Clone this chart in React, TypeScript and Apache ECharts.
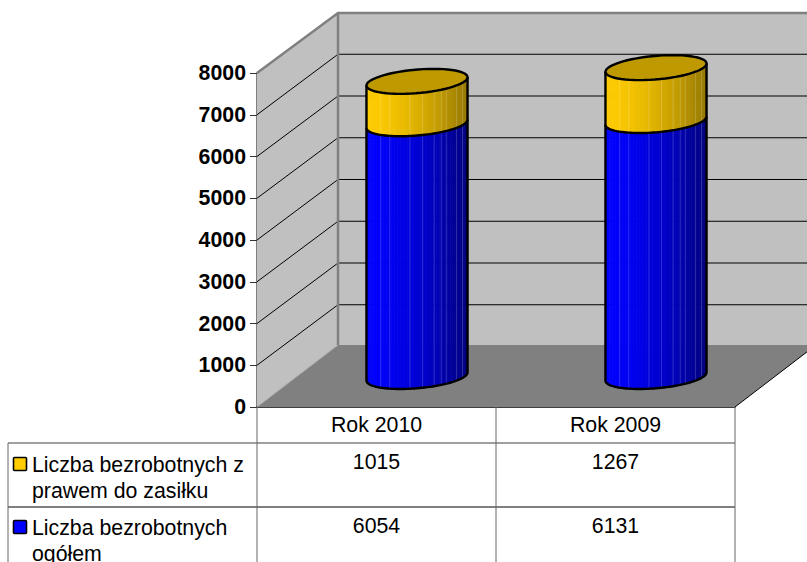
import React, { useEffect, useRef } from "react";
import * as echarts from "echarts";

const categories = ["Rok 2010", "Rok 2009"];
const totalName = "Liczba bezrobotnych ogółem";
const benefitName = "Liczba bezrobotnych z prawem do zasiłku";
const totalValues = [6054, 6131];
const benefitValues = [1015, 1267];
const yTicks = [0, 1000, 2000, 3000, 4000, 5000, 6000, 7000, 8000];

const FONT = "Liberation Sans, Arial, sans-serif";
const FONT_SIZE = 21.3;
const DEPTH_X = 81;
const DEPTH_Y = 61;
const R_X = 47.7;
const R_SKEW = 16.7;
const R_Y = 12.5;
const FACETS = 48;
const SEAMS = [-0.72, -0.54, -0.14, 0.11, 0.34, 0.48, 0.58, 0.78, 0.9];

const mix = (a: number[], b: number[], t: number) =>
  "rgb(" + a.map((v, i) => Math.round(v + (b[i] - v) * t)).join(",") + ")";

const ellipsePoint = (cx: number, cy: number, deg: number) => {
  const t = (deg * Math.PI) / 180;
  return [cx + R_X * Math.cos(t) + R_SKEW * Math.sin(t), cy - R_Y * Math.sin(t)];
};
const LEFT = 199.3;
const RIGHT = 379.3;
const SPAN = RIGHT - LEFT;

const frontArc = (cx: number, cy: number) => {
  const pts: number[][] = [];
  for (let i = 0; i <= 60; i++) pts.push(ellipsePoint(cx, cy, LEFT + (SPAN * i) / 60));
  return pts;
};

// A cylinder standing between two values, drawn at the centre of the depth of its category.
function cylinder(api: any, cat: number, lower: number, upper: number, light: number[], dark: number[], top: string | null) {
  const low = api.coord([cat, lower]);
  const up = api.coord([cat, upper]);
  const cx = low[0] + DEPTH_X / 2;
  const yLow = low[1] - DEPTH_Y / 2;
  const yUp = up[1] - DEPTH_Y / 2;
  const children: any[] = [];
  for (let i = 0; i < FACETS; i++) {
    const a0 = LEFT + (SPAN * i) / FACETS;
    const a1 = LEFT + (SPAN * (i + 1)) / FACETS;
    const p0 = ellipsePoint(cx, yUp, a0);
    const p1 = ellipsePoint(cx, yUp, a1);
    const q1 = ellipsePoint(cx, yLow, a1);
    const q0 = ellipsePoint(cx, yLow, a0);
    const u = ((p0[0] + p1[0]) / 2 - (cx - 50.5)) / 101;
    const colour = mix(light, dark, Math.pow(Math.max(u, 0), 1.6));
    children.push({
      type: "polygon",
      shape: { points: [p0, p1, q1, q0] },
      style: { fill: colour, stroke: colour, lineWidth: 0.7 },
    });
  }
  SEAMS.forEach((s) => {
    const deg = LEFT - 180 + 360 - (Math.acos(s) * 180) / Math.PI;
    const a = ellipsePoint(cx, yUp, deg);
    const b = ellipsePoint(cx, yLow, deg);
    children.push({
      type: "line",
      shape: { x1: a[0], y1: a[1], x2: b[0], y2: b[1] },
      style: { stroke: "rgba(255,255,255,0.18)", lineWidth: 1 },
    });
  });
  const leftTop = ellipsePoint(cx, yUp, LEFT);
  const rightTop = ellipsePoint(cx, yUp, RIGHT);
  children.push({
    type: "polyline",
    shape: { points: [leftTop, ...frontArc(cx, yLow), rightTop] },
    style: { fill: "none", stroke: "#000", lineWidth: 2.4 },
  });
  if (top) {
    const ring: number[][] = [];
    for (let d = 0; d <= 360; d += 6) ring.push(ellipsePoint(cx, yUp, d));
    children.push({ type: "polygon", shape: { points: ring }, style: { fill: top, stroke: "#000", lineWidth: 2.4 } });
  }
  return { type: "group", children };
}

const App = () => {
  const ref = useRef<HTMLDivElement>(null);
  useEffect(() => {
    document.body.style.margin = "0";
    document.body.style.overflow = "hidden";
    const chart = echarts.init(ref.current!, undefined, { renderer: "svg" });

    const line = (x1: number, y1: number, x2: number, y2: number, stroke: string, lineWidth = 1) => ({
      type: "line",
      shape: { x1, y1, x2, y2 },
      style: { stroke, lineWidth },
    });
    const font = `${FONT_SIZE}px ${FONT}`;
    const text = (x: number, y: number, t: string) => ({
      type: "text",
      x,
      y,
      style: { text: t, fill: "#000", font, align: "center", verticalAlign: "middle" },
    });

    const option: any = {
      animation: false,
      backgroundColor: "#fff",
      grid: { left: 257, right: 72, top: 73, height: 334, containLabel: false },
      xAxis: {
        type: "category",
        data: categories,
        boundaryGap: true,
        axisLine: { show: true, lineStyle: { color: "#000", width: 1.5 } },
        axisTick: { show: false },
        axisLabel: { show: true, margin: 7, color: "#000", fontFamily: FONT, fontSize: FONT_SIZE, lineHeight: 22 },
      },
      yAxis: {
        type: "value",
        min: 0,
        max: 8000,
        interval: 1000,
        splitLine: { show: false },
        axisLine: { show: true, lineStyle: { color: "#555", width: 1.5 } },
        axisTick: { show: true, length: 7, lineStyle: { color: "#333", width: 1 } },
        axisLabel: {
          color: "#000",
          fontFamily: FONT,
          fontSize: FONT_SIZE,
          fontWeight: "bold",
          margin: 11,
          padding: [2, 0, 0, 0],
          formatter: (v: number) => String(v),
        },
      },
      series: [
        {
          type: "custom",
          name: "walls",
          silent: true,
          z: 1,
          data: [0],
          renderItem: (_: any, api: any) => {
            const y0 = api.coord([0, 0])[1];
            const yTop = api.coord([0, 8000])[1];
            const left = api.coord([0, 0])[0] - api.size([1, 0])[0] / 2;
            const right = left + api.size([1, 0])[0] * categories.length;
            const bx = left + DEPTH_X;
            const by0 = y0 - DEPTH_Y - 1;
            const byT = yTop - 60;
            const children: any[] = [
              { type: "polygon", shape: { points: [[left, y0], [bx, by0], [bx, byT], [left, yTop]] }, style: { fill: "#c0c0c0" } },
              { type: "rect", shape: { x: bx, y: byT, width: 500, height: by0 - byT }, style: { fill: "#c0c0c0" } },
              { type: "polygon", shape: { points: [[left, y0], [bx, by0], [right + DEPTH_X, by0], [right, y0]] }, style: { fill: "#808080" } },
            ];
            yTicks.slice(1, -1).forEach((v) => {
              const y = api.coord([0, v])[1];
              children.push(line(left, y, bx, y - DEPTH_Y + 0.5, "#000"));
              children.push(line(bx, y - DEPTH_Y + 0.5, 820, y - DEPTH_Y + 0.5, "#000", 1));
            });
            children.push({
              type: "polyline",
              shape: { points: [[left, yTop], [bx, byT], [820, byT]] },
              style: { fill: "none", stroke: "#808080", lineWidth: 2.5 },
            });
            children.push(line(bx, byT, bx, by0, "#808080", 2.5));
            children.push(line(left, y0, bx, by0, "#a8a8a8", 1));
            children.push(line(right, y0, right + DEPTH_X, by0, "#000", 1));
            // data table rules
            children.push(line(8, 443, right, 443, "#808080", 1.5));
            children.push(line(8, 507, right, 507, "#000", 1));
            children.push(line(8, 443, 8, 562, "#666", 1));
            [0, 1, 2].forEach((i) => {
              const x = left + (i * (right - left)) / 2;
              children.push(line(x, y0, x, 562, "#666", 1));
            });
            return { type: "group", children };
          },
        },
        {
          type: "custom",
          name: totalName,
          z: 3,
          encode: { x: 0, y: 1 },
          data: totalValues.map((v, i) => [i, v]),
          renderItem: (p: any, api: any) =>
            cylinder(api, api.value(0), 0, api.value(1), [0, 0, 255], [0, 0, 128], null),
        },
        {
          type: "custom",
          name: benefitName,
          z: 4,
          encode: { x: 0, y: 1 },
          data: benefitValues.map((v, i) => [i, totalValues[i] + v]),
          renderItem: (p: any, api: any) =>
            cylinder(api, api.value(0), totalValues[api.value(0)], api.value(1), [255, 204, 0], [150, 120, 0], "#bf9900"),
        },
        {
          type: "custom",
          name: "table",
          silent: true,
          z: 5,
          data: categories.map((_, i) => [i, 0]),
          renderItem: (_: any, api: any) => {
            const i = api.value(0);
            const x = api.coord([i, 0])[0];
            return {
              type: "group",
              children: [text(x, 462, String(benefitValues[i])), text(x, 526, String(totalValues[i]))],
            };
          },
        },
      ],
      graphic: [
        { type: "rect", z: 10, shape: { x: 13.5, y: 457.5, width: 13, height: 13, r: 1 }, style: { fill: "#ffcc00", stroke: "#000", lineWidth: 1.6 } },
        { type: "rect", z: 10, shape: { x: 13.5, y: 520.5, width: 13, height: 13, r: 1 }, style: { fill: "#0000ff", stroke: "#000", lineWidth: 1.6 } },
        { type: "text", z: 10, x: 32, y: 465, style: { text: "Liczba bezrobotnych z", fill: "#000", font, verticalAlign: "middle" } },
        { type: "text", z: 10, x: 32, y: 491, style: { text: "prawem do zasiłku", fill: "#000", font, verticalAlign: "middle" } },
        { type: "text", z: 10, x: 32, y: 528, style: { text: "Liczba bezrobotnych", fill: "#000", font, verticalAlign: "middle" } },
        { type: "text", z: 10, x: 32, y: 554, style: { text: "ogółem", fill: "#000", font, verticalAlign: "middle" } },
      ],
    };
    chart.setOption(option);
    return () => chart.dispose();
  }, []);
  return <div ref={ref} style={{ width: 807, height: 562 }} />;
};

export default App;
